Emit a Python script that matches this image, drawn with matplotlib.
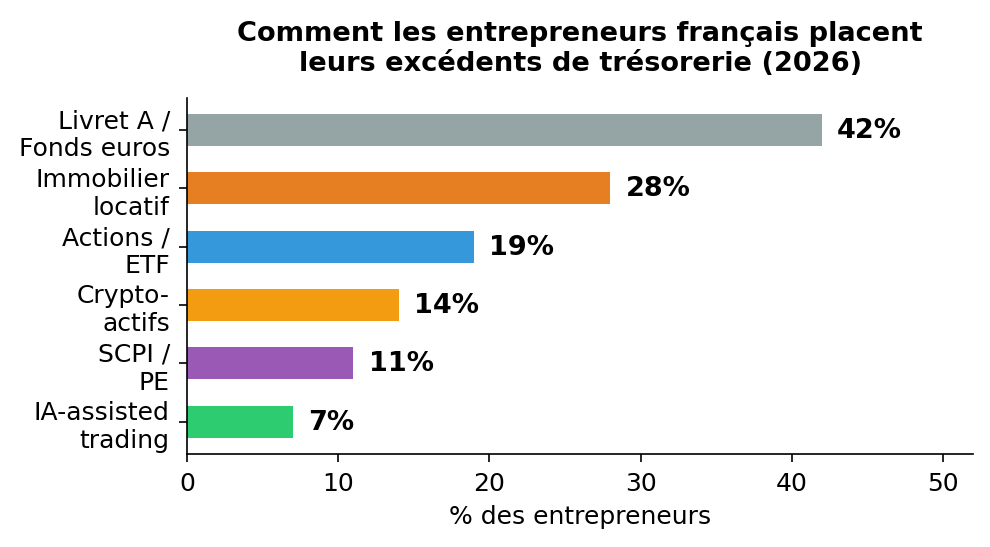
import matplotlib
matplotlib.use("Agg")
import matplotlib.pyplot as plt

categories = ["Livret A /\nFonds euros", "Immobilier\nlocatif", "Actions /\nETF",
              "Crypto-\nactifs", "SCPI /\nPE", "IA-assisted\ntrading"]
values = [42, 28, 19, 14, 11, 7]
colors = ["#95a5a6", "#e67e22", "#3498db", "#f39c12", "#9b59b6", "#2ecc71"]

fig, ax = plt.subplots(figsize=(6.6, 3.653), dpi=150)

ypos = list(range(len(categories)))[::-1]
ax.barh(ypos, values, color=colors, height=0.55)
for y, v in zip(ypos, values):
    ax.text(v + 1, y, f"{v}%", va="center", ha="left", fontsize=13, fontweight="bold")

ax.set_yticks(ypos)
ax.set_yticklabels(categories, fontsize=12)
ax.tick_params(axis="both", labelsize=12, pad=4.5, length=3.8)
ax.set_xlim(0, 52)
ax.set_xlabel("% des entrepreneurs", fontsize=12, labelpad=4.5)
ax.set_title("Comment les entrepreneurs français placent\nleurs excédents de trésorerie (2026)",
             fontsize=13.1, fontweight="bold", pad=13.5)
ax.spines["top"].set_visible(False)
ax.spines["right"].set_visible(False)

fig.subplots_adjust(left=0.189, right=0.983, top=0.82, bottom=0.17)
fig.savefig("out.png", dpi=150)
